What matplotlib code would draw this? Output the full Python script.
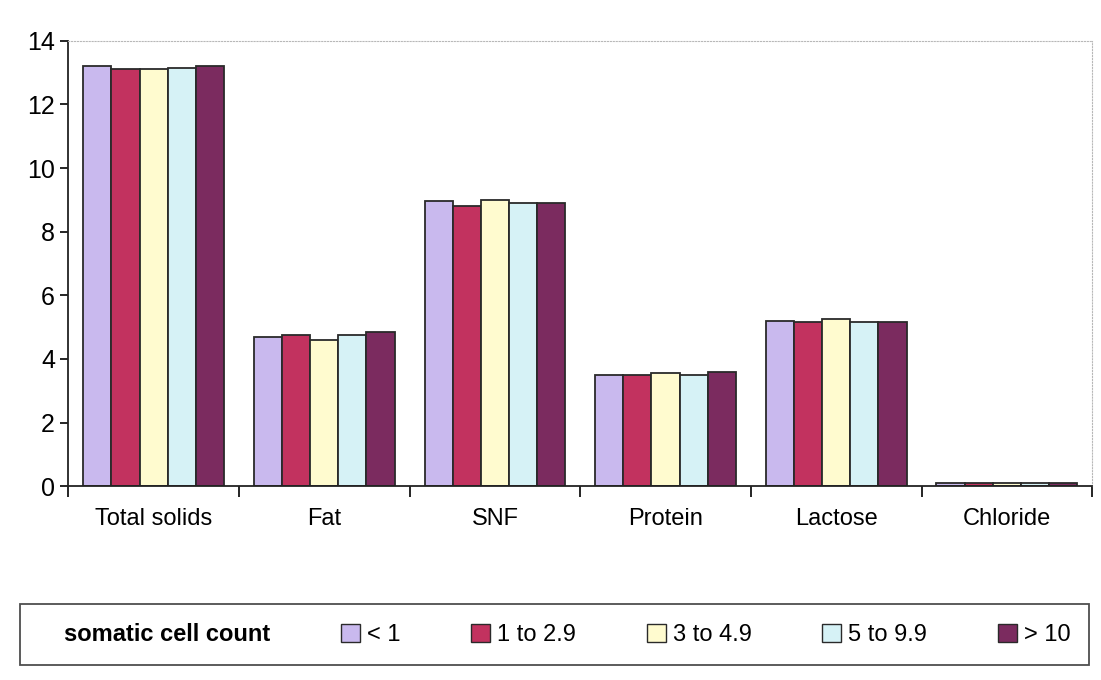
import numpy as np
import matplotlib.pyplot as plt
from matplotlib.patches import Patch

categories = ['Total solids', 'Fat', 'SNF', 'Protein', 'Lactose', 'Chloride']
series_names = ['< 1', '1 to 2.9', '3 to 4.9', '5 to 9.9', '> 10']
lt1 = [13.2, 4.7, 8.95, 3.5, 5.2, 0.1]
s1_29 = [13.1, 4.75, 8.8, 3.5, 5.15, 0.1]
s3_49 = [13.1, 4.6, 9.0, 3.55, 5.25, 0.1]
s5_99 = [13.15, 4.75, 8.9, 3.5, 5.15, 0.1]
gt10 = [13.2, 4.85, 8.9, 3.6, 5.15, 0.1]
colores = ['#c9b9ee', '#c2325f', '#fffbcf', '#d6f2f6', '#7b2b5f']

plt.rcParams['font.family'] = ['Liberation Sans', 'DejaVu Sans']

fig = plt.figure(figsize=(11.01, 6.8), dpi=100)
ax = fig.add_axes([0.062, 0.285, 0.93, 0.655])

x = np.arange(len(categories))
w = 0.165
for i, (vals, c) in enumerate(zip([lt1, s1_29, s3_49, s5_99, gt10], colores)):
    ax.bar(x + (i - 2) * w, vals, width=w, color=c, edgecolor='#2a2a2a',
           linewidth=1.3, label=series_names[i])

ax.set_xlim(-0.5, len(categories) - 0.5)
ax.set_ylim(0, 14)
ax.set_yticks(range(0, 15, 2))
ax.set_xticks(x)
ax.set_xticklabels(categories, fontsize=17)
ax.set_xticks(np.arange(-0.5, len(categories)), minor=True)
ax.tick_params(axis='x', which='major', length=0, pad=16)
ax.tick_params(axis='x', which='minor', length=8, width=1.2, direction='out')
ax.tick_params(axis='y', labelsize=18, length=6, width=1.2, direction='out')
for s in ['top', 'right']:
    ax.spines[s].set_color('#b8b8b8')
    ax.spines[s].set_linewidth(0.8)
    ax.spines[s].set_linestyle(':')
for s in ['left', 'bottom']:
    ax.spines[s].set_linewidth(1.3)
    ax.spines[s].set_color('#222222')

handles = [Patch(visible=False)] + [Patch(facecolor=c, edgecolor='#2a2a2a') for c in colores]
labels = ['somatic cell count'] + series_names
leg = fig.legend(handles, labels, loc='lower left', bbox_to_anchor=(0.007, 0.005, 0.993, 0.105),
                 mode='expand', ncol=6, fontsize=17, frameon=True, fancybox=False,
                 edgecolor='#222222', handlelength=0.8, handleheight=0.8,
                 handletextpad=0.3, columnspacing=1.2, borderpad=0.8)
leg.get_frame().set_linewidth(1.3)
leg.get_texts()[0].set_fontweight('bold')

fig.savefig('out.png', dpi=100)
